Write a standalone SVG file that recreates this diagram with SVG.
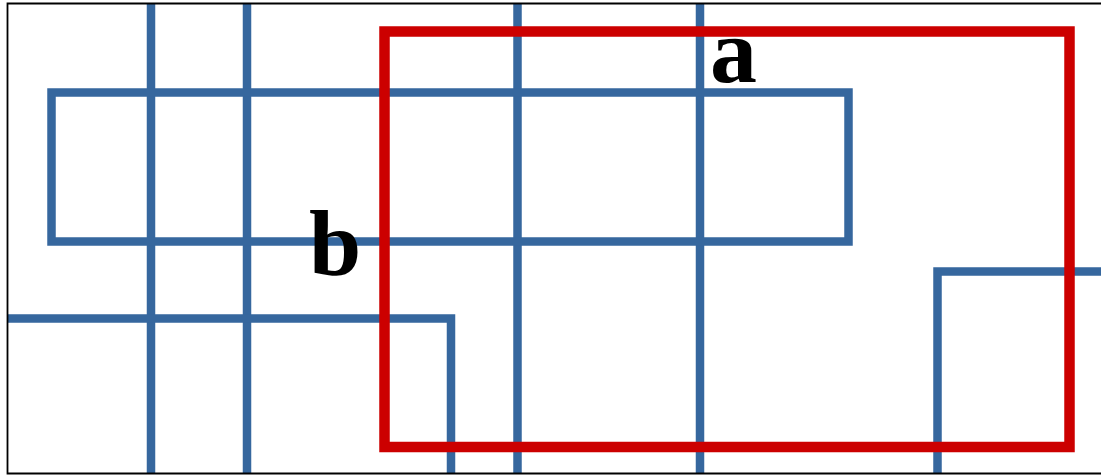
<svg xmlns="http://www.w3.org/2000/svg" width="1101" height="476" viewBox="0 0 1101 476">
<style>
.blue{fill:none;stroke:#36679e;stroke-width:8.5;stroke-linejoin:miter}
.red{fill:none;stroke:#cc0000;stroke-width:10.5;stroke-linejoin:miter}
.lbl{font-family:"Liberation Serif","Times New Roman",serif;font-weight:bold;font-size:94px;fill:#000}
</style>
<rect x="0" y="0" width="1101" height="476" fill="#ffffff"/>
<g id="connectors">
<line class="blue" x1="151" y1="4" x2="151" y2="473"/>
<line class="blue" x1="247" y1="4" x2="247" y2="473"/>
<line class="blue" x1="517.5" y1="4" x2="517.5" y2="473"/>
<line class="blue" x1="700" y1="4" x2="700" y2="473"/>
<path class="blue" d="M8 318.5 H451 V473"/>
<path class="blue" d="M937.5 473 V271.5 H1101"/>
</g>
<g id="rect-blue">
<rect class="blue" x="51.5" y="92.5" width="797" height="149"/>
</g>
<g id="rect-red">
<rect class="red" x="384.5" y="31.5" width="685" height="415.5"/>
</g>
<g id="label-a"><text class="lbl" x="710" y="82">a</text></g>
<g id="label-b"><text class="lbl" x="309" y="275">b</text></g>
<path d="M1101 3.5 H7.5 V473.5 H1101" fill="none" stroke="#000" stroke-width="1.8"/>
</svg>
